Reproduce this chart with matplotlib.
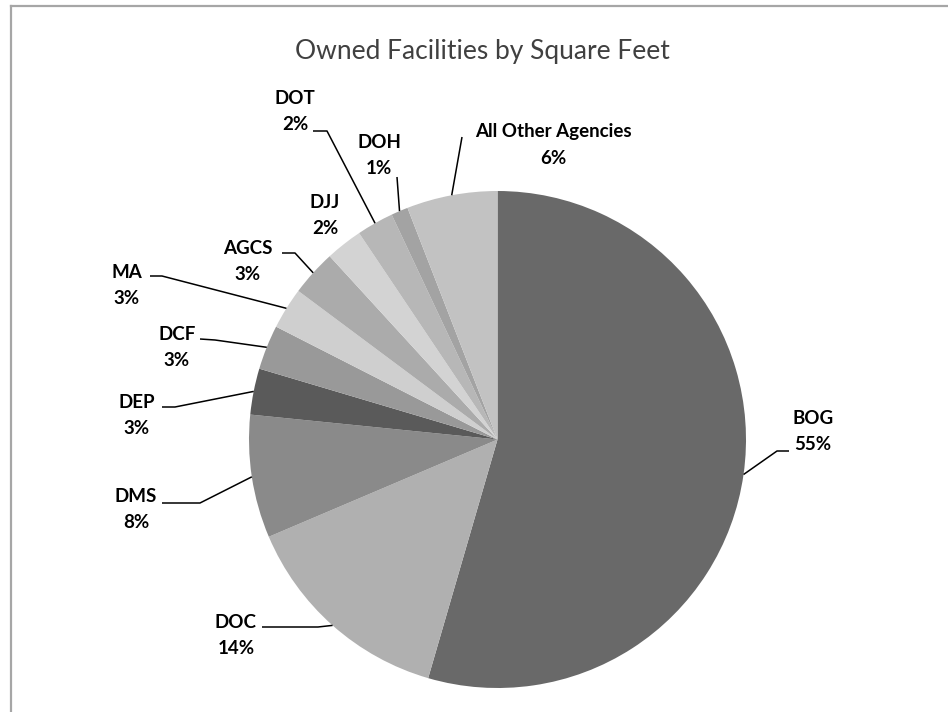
import matplotlib
matplotlib.use('Agg')
import matplotlib.pyplot as plt
from matplotlib.lines import Line2D
import numpy as np

# ---------------- data ----------------
categories = ['BOG', 'DOC', 'DMS', 'DEP', 'DCF', 'MA', 'AGCS', 'DJJ', 'DOT', 'DOH',
              'All Other Agencies']
shares = [54.5, 14.1, 8.0, 3.0, 2.9, 2.7, 3.0, 2.4, 2.4, 1.1, 5.9]
pct_labels = ['55%', '14%', '8%', '3%', '3%', '3%', '3%', '2%', '2%', '1%', '6%']
title = 'Owned Facilities by Square Feet'

# ---------------- style / layout ----------------
colors = ['#696969', '#b0b0b0', '#8a8a8a', '#5a5a5a', '#999999', '#cfcfcf',
          '#ababab', '#d3d3d3', '#b7b7b7', '#a3a3a3', '#c2c2c2']
W, H = 948, 712
center = (497.5, 439.5)
radius = 248.5
# label: (x center, y of first line, leader-line points from label side)
layout = {
    'BOG': (813, 419, [(789, 451), (777, 451)]),
    'DOC': (236, 622, [(262, 627), (318, 627)]),
    'DMS': (136, 497, [(162, 503), (200, 503)]),
    'DEP': (137, 402, [(162, 407), (175, 407)]),
    'DCF': (177, 335, [(200, 339), (215, 340)]),
    'MA': (127, 272, [(150, 276), (162, 276)]),
    'AGCS': (248, 248, [(282, 253), (295, 253)]),
    'DJJ': (325, 202, None),
    'DOT': (295, 99, [(313, 131), (327, 131)]),
    'DOH': (379, 143, [(397, 177)]),
    'All Other Agencies': (553, 132, [(462, 137)]),
}
line_gap = 26
label_font = dict(fontsize=13.5, fontweight='bold', family=['Lato', 'DejaVu Sans'],
                  color='black', ha='center', va='center')

fig = plt.figure(figsize=(W / 100, H / 100), dpi=100)
fig.patch.set_facecolor('white')
ax = fig.add_axes([0, 0, 1, 1])

wedges, _ = ax.pie(shares, colors=colors, startangle=-90, counterclock=True,
                   center=center, radius=radius,
                   wedgeprops=dict(linewidth=0, antialiased=True))
ax.set_xlim(0, W)
ax.set_ylim(H, 0)
ax.set_aspect('equal')
ax.axis('off')

for w, name, pct in zip(wedges, categories, pct_labels):
    x, y, pts = layout[name]
    ax.text(x, y, name, **label_font)
    ax.text(x, y + line_gap, pct, **label_font)
    if pts:
        tm = np.deg2rad((w.theta1 + w.theta2) / 2)
        ex = center[0] + radius * np.cos(tm)
        ey = center[1] + radius * np.sin(tm)
        xs = [p[0] for p in pts] + [ex]
        ys = [p[1] for p in pts] + [ey]
        ax.plot(xs, ys, color='black', lw=1.1, solid_capstyle='butt', zorder=5)

ax.text(482, 52, title, fontsize=19, family=['Lato', 'DejaVu Sans'],
        fontweight='normal', color='#404040', ha='center', va='center')

# chart frame (partially visible, cropped at right/bottom)
fig.add_artist(Line2D([11 / W, 1], [1 - 6 / H, 1 - 6 / H], color='#a6a6a6', lw=1.6,
                      transform=fig.transFigure))
fig.add_artist(Line2D([11 / W, 11 / W], [0, 1 - 6 / H], color='#a6a6a6', lw=1.6,
                      transform=fig.transFigure))

fig.savefig('out.png', dpi=100, facecolor='white')
